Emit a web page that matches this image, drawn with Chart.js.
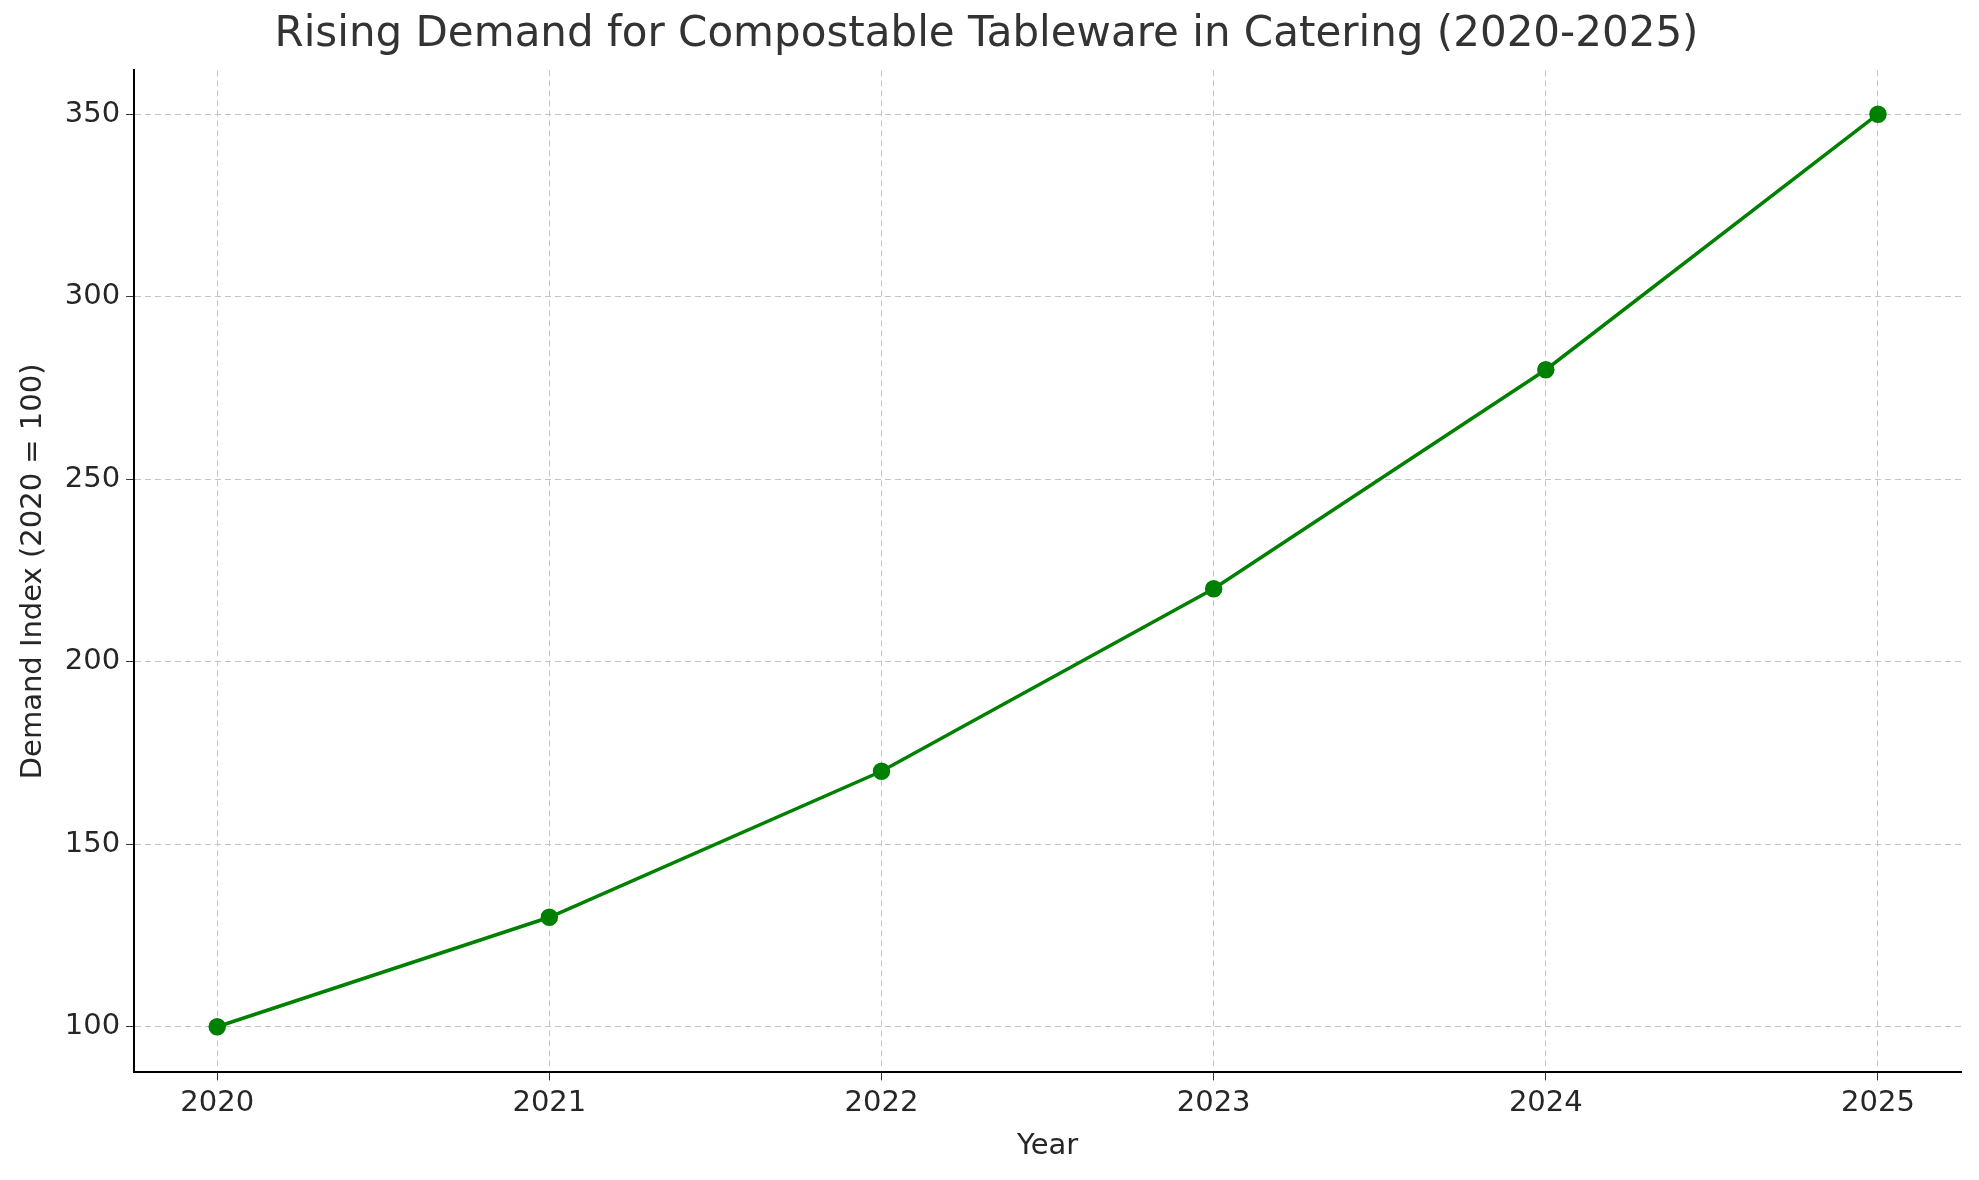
<!DOCTYPE html>
<html lang="en">
<head>
<meta charset="UTF-8">
<title>Compostable Tableware Demand</title>
<script src="https://cdn.jsdelivr.net/npm/chart.js"></script>
<style>
  body { margin: 0; background: #fff; }
  #wrap { width: 1979px; height: 1180px; }
</style>
</head>
<body>
<div id="wrap"><canvas id="demandChart"></canvas></div>
<script>
const years = [2020, 2021, 2022, 2023, 2024, 2025];
const demandIndex = [100, 130, 170, 220, 280, 350];
const yTicks = [100, 150, 200, 250, 300, 350];

const font = "DejaVu Sans";
const txt = "#262626";

new Chart(document.getElementById("demandChart"), {
  type: "line",
  data: {
    datasets: [{
      data: years.map((y, i) => ({ x: y, y: demandIndex[i] })),
      borderColor: "#008000",
      backgroundColor: "#008000",
      borderWidth: 3.5,
      pointRadius: 7,
      pointHoverRadius: 7,
      tension: 0
    }]
  },
  options: {
    responsive: true,
    maintainAspectRatio: false,
    animation: false,
    devicePixelRatio: 1,
    layout: { padding: { left: 12, right: 18, top: 2, bottom: 12 } },
    plugins: {
      legend: { display: false },
      tooltip: { enabled: false },
      title: {
        display: true,
        text: "Rising Demand for Compostable Tableware in Catering (2020-2025)",
        color: "#333",
        font: { family: font, size: 42, weight: "normal" },
        padding: { top: 8, bottom: 10 }
      }
    },
    scales: {
      x: {
        type: "linear",
        min: 2019.75,
        max: 2025.25,
        afterBuildTicks: s => { s.ticks = years.map(v => ({ value: v })); },
        ticks: {
          color: txt,
          font: { family: font, size: 29 },
          callback: v => String(v),
          padding: 6
        },
        grid: { color: "#c4c4c4", lineWidth: 1, tickLength: 8, tickColor: "#333" },
        border: { display: true, color: "#000", width: 2, dash: [6, 4] },
        title: {
          display: true, text: "Year", color: txt,
          font: { family: font, size: 29 }, padding: { top: 2 }
        }
      },
      y: {
        min: 87.5,
        max: 362,
        afterBuildTicks: s => { s.ticks = yTicks.map(v => ({ value: v })); },
        ticks: {
          color: txt,
          font: { family: font, size: 29 },
          padding: 6
        },
        grid: { color: "#c4c4c4", lineWidth: 1, tickLength: 8, tickColor: "#333" },
        border: { display: true, color: "#000", width: 2, dash: [6, 4] },
        title: {
          display: true, text: "Demand Index (2020 = 100)", color: txt,
          font: { family: font, size: 29 }, padding: { bottom: 8 }
        }
      }
    }
  }
});
</script>
</body>
</html>
